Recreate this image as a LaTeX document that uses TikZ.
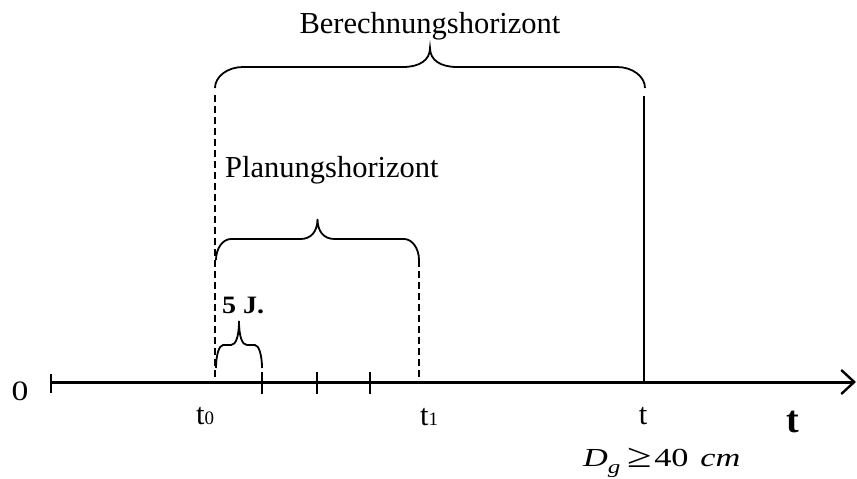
\documentclass[tikz,border=0pt]{standalone}
\usepackage{fontspec}
\setmainfont{Liberation Serif}
\usetikzlibrary{arrows.meta}
% horizontal curly brace: x1, x2, y at ends, y of flat part, y of tip, end radius, middle half width
\newcommand\myhbrace[7]{%
  \pgfmathsetmacro\bxm{(#1+#2)/2}%
  \draw[bracestyle] (#1,#3)
    .. controls (#1,{#4+0.45*(#3-#4)}) and ({#1+0.45*#6},#4) .. ({#1+#6},#4)
    -- ({\bxm-#7},#4)
    .. controls ({\bxm-0.4*#7},#4) and (\bxm,{#4-0.35*(#4-#5)}) .. (\bxm,#5)
    .. controls (\bxm,{#4-0.35*(#4-#5)}) and ({\bxm+0.4*#7},#4) .. ({\bxm+#7},#4)
    -- ({#2-#6},#4)
    .. controls ({#2-0.45*#6},#4) and (#2,{#4+0.45*(#3-#4)}) .. (#2,#3);}
\begin{document}
\begin{tikzpicture}[x=1pt,y=-1pt,
  bracestyle/.style={line width=1.8pt},
  axisline/.style={line width=3pt},
  tickline/.style={line width=2.2pt},
  dashline/.style={line width=1.8pt, dash pattern=on 7pt off 4pt},
  solidline/.style={line width=2pt},
  lbl/.style={inner sep=0pt, font=\fontsize{30.5}{34}\selectfont},
  every node/.style={inner sep=0pt}]
\useasboundingbox (0,0) rectangle (857,479);

% axis
\coordinate (o) at (51,382);
\coordinate (e) at (856,382);
\draw[axisline, -{Straight Barb[length=13pt,width=24pt,line width=2.4pt]}] (o) -- (e);
\draw[tickline] (51,374) -- (51,393);
\foreach \x in {262,317,370}{\draw[tickline] (\x,372) -- (\x,394);}

% vertical lines
\coordinate (t0top) at (215,95);
\coordinate (t0bot) at (215,382);
\coordinate (t1top) at (419,260);
\coordinate (t1bot) at (419,382);
\coordinate (ttop) at (644,96);
\coordinate (tbot) at (644,382);
\draw[dashline] (t0top) -- (t0bot);
\draw[dashline] (t1top) -- (t1bot);
\draw[solidline] (ttop) -- (tbot);

% braces
\myhbrace{215}{645}{88}{67}{48}{28}{27}
\myhbrace{216}{419}{260}{239}{219}{15}{17}
\myhbrace{216}{262}{368}{345}{321}{7}{8}

% labels
\node[lbl, anchor=base] (ber) at (430,33) {Berechnungshorizont};
\node[lbl, anchor=base west] (plan) at (225,177) {Planungshorizont};
\node[anchor=base west, font=\fontsize{25}{27}\selectfont\bfseries] (fj) at (222,313) {\scalebox{1.12}[1]{5 J.}};
\node[anchor=base, font=\fontsize{28}{30}\selectfont] (zero) at (20,400) {\scalebox{1.2}[1]{0}};
\node[lbl, anchor=base west] (tz) at (196,424) {t{\fontsize{19}{20}\selectfont 0}};
\node[lbl, anchor=base west] (to) at (420,425) {t{\fontsize{19}{20}\selectfont 1}};
\node[lbl, anchor=base] (tt) at (643,424) {t};
\node[anchor=base, font=\fontsize{38}{40}\selectfont\bfseries] (tbold) at (793,432) {t};
\node[anchor=base west, font=\fontsize{26}{28}\selectfont] (dg) at (583,466)
  {\scalebox{1.32}[1]{\itshape D\raisebox{-7pt}{\fontsize{19}{20}\selectfont g}\hspace{5pt}\upshape\raisebox{-1pt}{\scalebox{1.3}{≥}}\hspace{2pt}40\hspace{9pt}\itshape cm}};
\end{tikzpicture}
\end{document}
